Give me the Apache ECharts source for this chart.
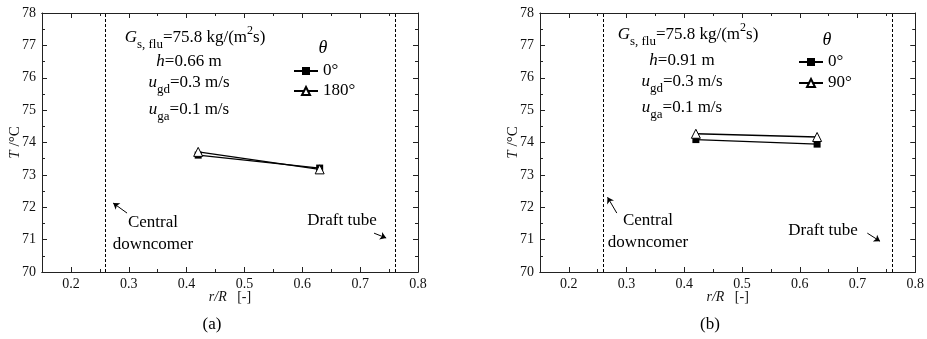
<!DOCTYPE html>
<html>
<head>
<meta charset="utf-8">
<script src="https://cdn.jsdelivr.net/npm/echarts@6/dist/echarts.min.js"></script>
<style>
html,body{margin:0;padding:0;background:#fff;}
#c{width:927px;height:339px;}
</style>
</head>
<body>
<div id="c"></div>
<script>
// ---- data ----
const rPos = [0.42, 0.63];
const tA_0 = [73.61, 73.21];
const tA_180 = [73.71, 73.17];
const tB_0 = [74.09, 73.95];
const tB_90 = [74.27, 74.17];
const xMajorTicks = [0.2, 0.3, 0.4, 0.5, 0.6, 0.7, 0.8];
const xMinorTicks = [0.15, 0.25, 0.35, 0.45, 0.55, 0.65, 0.75];
const wallLines = [0.26, 0.76];
const namesA = ['0°', '180°'];
const namesB = ['0°', '90°'];

const FONT = '"Liberation Serif", "DejaVu Serif", serif';
const AX = '#222';

function xAxis(grid, pos, values, len, labels) {
  return {
    type: 'value', gridIndex: grid, position: pos, offset: 0,
    min: 0.15, max: 0.8,
    axisLine: {show: true, onZero: false, lineStyle: {color: AX, width: 1}},
    axisTick: {show: true, inside: true, length: len, customValues: values, lineStyle: {color: AX}},
    axisLabel: {show: labels, customValues: xMajorTicks, margin: 5, color: '#111',
      fontFamily: FONT, fontSize: 14, formatter: v => v.toFixed(1)},
    splitLine: {show: false},
    name: (labels ? '{i|r/R}   [-]' : ''), nameLocation: 'middle', nameGap: 18,
    nameMoveOverlap: false,
    nameTextStyle: {fontFamily: FONT, fontSize: 14, color: '#111',
      rich: {i: {fontStyle: 'italic', fontFamily: FONT, fontSize: 14, color: '#111'}}}
  };
}
function yAxis(grid, pos, labels) {
  return {
    type: 'value', gridIndex: grid, position: pos, min: 70, max: 78, interval: 1,
    axisLine: {show: true, lineStyle: {color: AX, width: 1}},
    axisTick: {show: true, inside: true, length: 5, lineStyle: {color: AX}},
    minorTick: {show: true, splitNumber: 2, length: 3, lineStyle: {color: AX}},
    axisLabel: {show: labels, margin: 6, color: '#111', fontFamily: FONT, fontSize: 14},
    splitLine: {show: false},
    name: (labels ? '{i|T} /°C' : ''), nameLocation: 'middle', nameGap: 19, nameRotate: 90,
    nameMoveOverlap: false,
    nameTextStyle: {fontFamily: FONT, fontSize: 15, color: '#111',
      rich: {i: {fontStyle: 'italic', fontFamily: FONT, fontSize: 15, color: '#111'}}}
  };
}

function markLines(arrows) {
  return {
    silent: true, symbol: ['none', 'none'], animation: false,
    label: {show: false},
    lineStyle: {color: '#000', type: [3, 2], width: 1},
    emphasis: {disabled: true},
    data: wallLines.map(v => ({xAxis: v})).concat(arrows.map(a => [
      {coord: a[0], symbol: 'none', lineStyle: {type: 'solid', width: 1}},
      {coord: a[1], symbol: 'arrow', symbolSize: 6}
    ]))
  };
}

function sq(name, xi, yi, data, ml) {
  const s = {
    name, type: 'line', xAxisIndex: xi, yAxisIndex: yi,
    data: rPos.map((r, i) => [r, data[i]]),
    symbol: 'rect', symbolSize: 7, showSymbol: true,
    itemStyle: {color: '#000'}, lineStyle: {color: '#000', width: 1.3},
    emphasis: {disabled: true}, z: 3
  };
  if (ml) s.markLine = ml;
  return s;
}
function tri(name, xi, yi, data) {
  return {
    name, type: 'line', xAxisIndex: xi, yAxisIndex: yi,
    data: rPos.map((r, i) => [r, data[i]]),
    symbol: 'triangle', symbolSize: 9, showSymbol: true,
    itemStyle: {color: '#fff', borderColor: '#000', borderWidth: 1},
    lineStyle: {color: '#000', width: 1.3},
    emphasis: {disabled: true}, z: 4
  };
}

const richT = {
  i: {fontStyle: 'italic', fontFamily: FONT, fontSize: 17, lineHeight: 26, fill: '#000'},
  n: {fontFamily: FONT, fontSize: 17, lineHeight: 26, fill: '#000'},
  sub: {fontFamily: FONT, fontSize: 13, lineHeight: 13, verticalAlign: 'bottom', fill: '#000'},
  sup: {fontFamily: FONT, fontSize: 12, lineHeight: 12, verticalAlign: 'top', fill: '#000'}
};
function txt(x, y, text) {
  return {type: 'text', x: x, y: y, silent: true,
    style: {text: text, rich: richT, font: '17px ' + FONT, fill: '#000',
      align: 'center', verticalAlign: 'middle'}};
}
function plain(x, y, text, size, extra) {
  return {type: 'text', x: x, y: y, silent: true,
    style: Object.assign({text: text, font: size + 'px ' + FONT, fill: '#000',
      align: 'center', verticalAlign: 'middle', lineHeight: 22}, extra || {})};
}

function paramLines(cx1, cx, ys, hval) {
  return [
    txt(cx1, ys[0], '{i|G}{sub|s, flu}{n|=75.8 kg/(m}{sup|2}{n|s)}'),
    txt(cx, ys[1], '{i|h}{n|=' + hval + ' m}'),
    txt(cx, ys[2], '{i|u}{sub|gd}{n|=0.3 m/s}'),
    txt(cx, ys[3], '{i|u}{sub|ga}{n|=0.1 m/s}')
  ];
}

const legendText = {fontFamily: FONT, fontSize: 17, color: '#000', lineHeight: 18};

const option = {
  animation: false,
  backgroundColor: '#fff',
  grid: [
    {left: 42, top: 13, width: 376, height: 259},
    {left: 540, top: 13, width: 377, height: 259}
  ],
  xAxis: [
    xAxis(0, 'bottom', xMajorTicks, 5, true),
    xAxis(0, 'bottom', xMinorTicks, 3, false),
    xAxis(0, 'top', xMajorTicks, 5, false),
    xAxis(0, 'top', xMinorTicks, 3, false),
    xAxis(1, 'bottom', xMajorTicks, 5, true),
    xAxis(1, 'bottom', xMinorTicks, 3, false),
    xAxis(1, 'top', xMajorTicks, 5, false),
    xAxis(1, 'top', xMinorTicks, 3, false)
  ],
  yAxis: [
    yAxis(0, 'left', true), yAxis(0, 'right', false),
    yAxis(1, 'left', true), yAxis(1, 'right', false)
  ],
  legend: [
    {data: namesA.map(n => ({name: n})), orient: 'vertical', left: 293, top: 62, padding: 0,
     itemWidth: 24, itemHeight: 10, itemGap: 2, selectedMode: false, textStyle: legendText},
    {data: namesB.map(n => ({name: n})), orient: 'vertical', left: 798, top: 53, padding: 0,
     itemWidth: 24, itemHeight: 10, itemGap: 3, selectedMode: false, textStyle: legendText}
  ],
  series: [
    sq(namesA[0], 0, 0, tA_0, markLines([[[0.297, 71.82], [0.273, 72.13]], [[0.724, 71.2], [0.745, 71.05]]])),
    tri(namesA[1], 0, 0, tA_180),
    sq(namesB[0], 4, 2, tB_0, markLines([[[0.283, 71.82], [0.267, 72.31]], [[0.717, 71.2], [0.739, 70.95]]])),
    tri(namesB[1], 4, 2, tB_90)
  ],
  graphic: [].concat(
    paramLines(195, 189, [38, 62, 83, 110], '0.66'),
    paramLines(688, 682, [35, 61, 82, 108], '0.91'),
    [
      plain(323, 48, 'θ', 17, {font: 'italic 18px ' + FONT}),
      plain(827, 40, 'θ', 17, {font: 'italic 18px ' + FONT}),
      plain(153, 234, 'Central\ndowncomer', 17),
      plain(648, 232, 'Central\ndowncomer', 17),
      plain(342, 221, 'Draft tube', 17),
      plain(823, 231, 'Draft tube', 17),
      plain(212, 325, '(a)', 17),
      plain(710, 325, '(b)', 17)
    ]
  )
};

const chart = echarts.init(document.getElementById('c'), null, {renderer: 'canvas'});
chart.setOption(option);
</script>
</body>
</html>
